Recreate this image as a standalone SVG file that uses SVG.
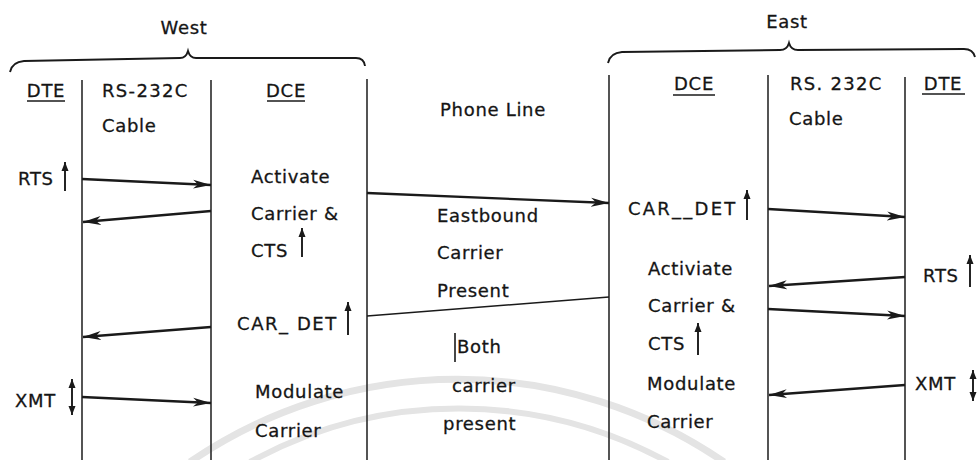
<svg xmlns="http://www.w3.org/2000/svg" width="978" height="460" viewBox="0 0 978 460">
<style>
text{font-family:"DejaVu Sans","Liberation Sans",sans-serif;font-size:18px;fill:#151515;stroke:#151515;stroke-width:0.3;letter-spacing:0.7px}
.c{text-anchor:middle}
.v{stroke:#2a2a2a;stroke-width:1.6;fill:none}
.a{stroke:#1a1a1a;stroke-width:2.3;fill:none;marker-end:url(#ah)}
.p{stroke:#1a1a1a;stroke-width:1.6;fill:none}
.u{stroke:#1a1a1a;stroke-width:1.9;fill:none;marker-end:url(#sh)}
.d{stroke:#1a1a1a;stroke-width:1.9;fill:none;marker-end:url(#sh);marker-start:url(#sh)}
.ul{stroke:#1a1a1a;stroke-width:1.5}
.br{stroke:#1a1a1a;stroke-width:1.9;fill:none}
.wm{stroke:#e4e4e4;fill:none}
</style>
<defs>
<marker id="ah" markerUnits="userSpaceOnUse" markerWidth="20" markerHeight="12" refX="18" refY="6" orient="auto"><path d="M0,1.5 L18,6 L0,10.5 L5,6 z" fill="#1a1a1a"/></marker>
<marker id="sh" markerUnits="userSpaceOnUse" markerWidth="10" markerHeight="8" refX="9" refY="4" orient="auto-start-reverse"><path d="M0,0.5 L9,4 L0,7.5 z" fill="#1a1a1a"/></marker>
</defs>
<rect width="978" height="460" fill="#ffffff"/>
<g id="watermark">
<path class="wm" stroke-width="7" d="M190,462 A472,472 0 0 1 724,462"/>
<path class="wm" stroke-width="6" d="M250,462 A435,435 0 0 1 668,462"/>
</g>
<g id="west">
<text class="c" x="184" y="34">West</text>
<path class="br" d="M10,72 Q12,62 24,61 L180,58 Q186,58 188,51 Q190,58 196,58 L356,58 Q364,58 365,66"/>
</g>
<g id="east">
<text class="c" x="787" y="28">East</text>
<path class="br" d="M608,63 Q610,53 622,52 L780,50 Q787,50 789,43 Q791,50 798,50 L964,49 Q973,49 975,57"/>
</g>
<g id="lifelines">
<line class="v" x1="82" y1="80" x2="82" y2="460"/>
<line class="v" x1="211" y1="80" x2="211" y2="460"/>
<line class="v" x1="367" y1="79" x2="367" y2="460"/>
<line class="v" x1="609" y1="75" x2="609" y2="460"/>
<line class="v" x1="768" y1="75" x2="768" y2="460"/>
<line class="v" x1="905" y1="77" x2="905" y2="460"/>
</g>
<g id="west-dte">
<text class="c" x="46" y="97">DTE</text>
<line class="ul" x1="27" y1="101" x2="65" y2="101"/>
<text x="18" y="185">RTS</text>
<line class="u" x1="65" y1="191" x2="65" y2="162"/>
<text x="15" y="407">XMT</text>
<line class="d" x1="72" y1="379" x2="72" y2="415"/>
</g>
<g id="west-cable">
<text class="c" x="145" y="97" textLength="86">RS-232C</text>
<text x="102" y="132">Cable</text>
</g>
<g id="west-dce">
<text class="c" x="286" y="97">DCE</text>
<line class="ul" x1="267" y1="101" x2="305" y2="101"/>
<text x="251" y="183">Activate</text>
<text x="251" y="220">Carrier &amp;</text>
<text x="251" y="257">CTS</text>
<line class="u" x1="302" y1="257" x2="302" y2="228"/>
<text x="237" y="330" textLength="100">CAR_ DET</text>
<line class="u" x1="348" y1="335" x2="348" y2="302"/>
<text x="255" y="398">Modulate</text>
<text x="255" y="437">Carrier</text>
</g>
<g id="phone-line">
<text x="440" y="116">Phone Line</text>
<text x="437" y="222">Eastbound</text>
<text x="437" y="259">Carrier</text>
<text x="437" y="297">Present</text>
<line class="p" x1="455" y1="333" x2="455" y2="362" stroke-width="1"/>
<text x="457" y="353">Both</text>
<text x="452" y="392">carrier</text>
<text x="443" y="430">present</text>
</g>
<g id="east-dce">
<text class="c" x="694" y="90">DCE</text>
<line class="ul" x1="673" y1="95" x2="715" y2="95"/>
<text x="628" y="215" textLength="108">CAR__DET</text>
<line class="u" x1="747" y1="220" x2="747" y2="190"/>
<text x="648" y="275">Activiate</text>
<text x="648" y="312">Carrier &amp;</text>
<text x="648" y="350">CTS</text>
<line class="u" x1="698" y1="355" x2="698" y2="323"/>
<text x="647" y="390">Modulate</text>
<text x="647" y="428">Carrier</text>
</g>
<g id="east-cable">
<text class="c" x="836" y="90" textLength="92">RS. 232C</text>
<text x="789" y="125">Cable</text>
</g>
<g id="east-dte">
<text class="c" x="943" y="90">DTE</text>
<line class="ul" x1="922" y1="94" x2="965" y2="94"/>
<text x="923" y="282">RTS</text>
<line class="u" x1="970" y1="287" x2="970" y2="255"/>
<text x="915" y="390">XMT</text>
<line class="d" x1="973" y1="370" x2="973" y2="401"/>
</g>
<g id="connectors">
<line class="a" x1="82" y1="179" x2="211" y2="185"/>
<line class="a" x1="211" y1="211" x2="83" y2="222"/>
<line class="a" x1="367" y1="193" x2="609" y2="203"/>
<line class="a" x1="768" y1="209" x2="905" y2="217"/>
<line class="a" x1="905" y1="277" x2="769" y2="286"/>
<line class="p" x1="609" y1="297" x2="367" y2="316"/>
<line class="a" x1="211" y1="327" x2="83" y2="337"/>
<line class="a" x1="768" y1="309" x2="905" y2="316"/>
<line class="a" x1="82" y1="397" x2="211" y2="403"/>
<line class="a" x1="905" y1="385" x2="769" y2="395"/>
</g>
</svg>
